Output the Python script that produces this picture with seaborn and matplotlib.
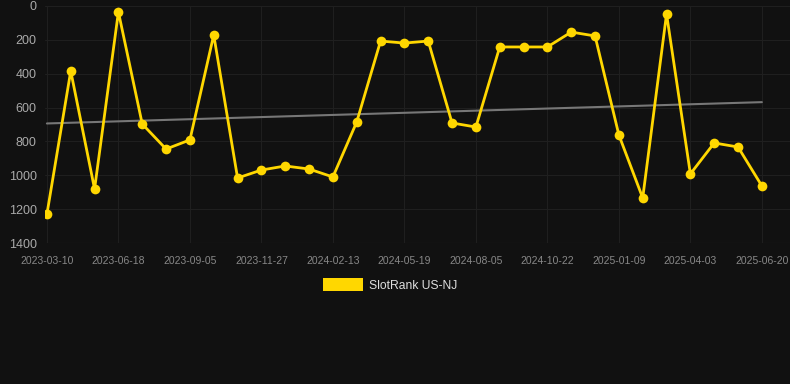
import numpy as np
import pandas as pd
import matplotlib
matplotlib.use("Agg")
import matplotlib.pyplot as plt
import seaborn as sns
from matplotlib.patches import Patch

# SlotRank values (lower = better, axis inverted)
dates = [
    "2023-03-10", "2023-04-12", "2023-05-15", "2023-06-18", "2023-07-10",
    "2023-08-12", "2023-09-05", "2023-10-01", "2023-10-28", "2023-11-27",
    "2023-12-20", "2024-01-18", "2024-02-13", "2024-03-15", "2024-04-17",
    "2024-05-19", "2024-06-14", "2024-07-10", "2024-08-05", "2024-08-31",
    "2024-09-26", "2024-10-22", "2024-11-18", "2024-12-14", "2025-01-09",
    "2025-02-05", "2025-03-08", "2025-04-03", "2025-04-30", "2025-05-25",
    "2025-06-20",
]
ranks = [
    1230, 384, 1081, 35, 697, 845, 791, 171, 1016, 969,
    945, 963, 1010, 685, 207, 219, 207, 691, 715, 242,
    242, 242, 154, 177, 762, 1134, 47, 992, 809, 833,
    1063,
]
tick_every = 3

df = pd.DataFrame({"idx": np.arange(len(ranks)), "date": dates, "rank": ranks})

bg = "#111111"
sns.set_style("dark", {"axes.facecolor": bg, "figure.facecolor": bg,
                       "axes.grid": True, "grid.color": "#1f1f1f"})
plt.rcParams["font.family"] = ["Liberation Sans", "DejaVu Sans"]

fig = plt.figure(figsize=(7.9, 3.84), dpi=100)
ax = fig.add_axes([45 / 790, 1 - 243 / 384, 1 - 45 / 790, 237 / 384])
ax.set_facecolor(bg)

# trend line
coef = np.polyfit(df["idx"], df["rank"], 1)
trend = np.polyval(coef, df["idx"])
sns.lineplot(x=df["idx"], y=trend, ax=ax, color="#777777", linewidth=1.5, zorder=2)

sns.lineplot(data=df, x="idx", y="rank", ax=ax, color="#FFD700", linewidth=2.0,
             marker="o", markersize=7, markeredgewidth=0, zorder=3)

ax.set_ylim(1400, 0)
ax.set_xlim(-0.08, len(ranks) - 1 + 1.18)
ax.set_yticks(range(0, 1401, 200))
ax.set_xticks(df["idx"][::tick_every])
ax.set_xticklabels(df["date"][::tick_every])
ax.tick_params(axis="x", colors="#888888", labelsize=7.5, length=0, pad=9)
ax.tick_params(axis="y", colors="#aaaaaa", labelsize=9, length=0, pad=6)
ax.grid(True, color="#1f1f1f", linewidth=0.8)
ax.set_xlabel("")
ax.set_ylabel("")
for s in ax.spines.values():
    s.set_visible(False)
ax.axhline(1400, color="#262626", linewidth=0.8, zorder=1)

fig.legend(handles=[Patch(facecolor="#FFD700", edgecolor="none", label="SlotRank US-NJ")],
           loc="center", bbox_to_anchor=(390 / 790, 1 - 285 / 384), frameon=False,
           fontsize=8.7, labelcolor="#dddddd", handlelength=3.3, handleheight=1.2,
           handletextpad=0.5)

fig.savefig("out.png", dpi=100, facecolor=bg)
